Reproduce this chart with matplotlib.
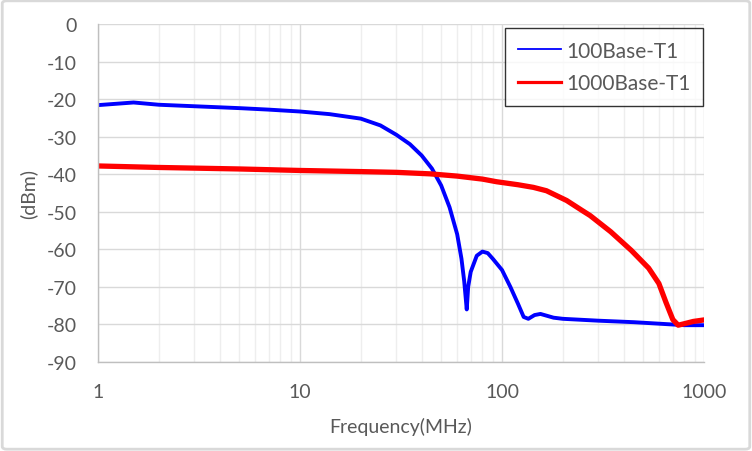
import matplotlib.pyplot as plt
from matplotlib.lines import Line2D
from matplotlib.patches import FancyBboxPatch
from matplotlib.ticker import FixedLocator, LogLocator, NullFormatter

# ---- data (frequency in MHz, level in dBm) ----
freq_100 = [1, 1.5, 2, 3, 5, 7, 10, 14, 20, 25, 30, 35, 40, 45, 50, 55, 60,
            63, 65, 66.9, 68, 70, 75, 80, 85, 90, 100, 110, 120, 128, 135,
            145, 155, 180, 200, 300, 450, 600, 800, 1000]
level_100 = [-21.6, -20.9, -21.5, -21.9, -22.4, -22.8, -23.3, -24.0, -25.2,
             -27.0, -29.5, -32.0, -35.0, -38.5, -43.0, -48.8, -56.0, -62.5,
             -68.5, -76.0, -70.0, -66.0, -61.7, -60.6, -61.0, -62.5, -65.5,
             -70.0, -74.5, -78.0, -78.5, -77.5, -77.2, -78.2, -78.5, -79.0,
             -79.4, -79.8, -80.2, -80.2]

freq_1000 = [1, 2, 5, 10, 20, 30, 44, 60, 80, 94, 120, 143, 166, 209, 250,
             273, 345, 437, 532, 598, 648, 701, 745, 800, 885, 1000]
level_1000 = [-37.8, -38.2, -38.6, -39.0, -39.3, -39.5, -39.9, -40.5, -41.3,
              -42.0, -42.8, -43.5, -44.4, -47.0, -49.7, -51.0, -55.3, -60.3,
              -65.0, -69.1, -74.1, -78.7, -80.2, -79.8, -79.2, -78.8]

series_names = ['100Base-T1', '1000Base-T1']
y_ticks = [0, -10, -20, -30, -40, -50, -60, -70, -80, -90]
x_ticks = [1, 10, 100, 1000]

# ---- style ----
plt.rcParams['font.family'] = ['Lato', 'DejaVu Sans']
plt.rcParams['axes.unicode_minus'] = False
text_color = '#595959'
blue = '#0000ff'
red = '#ff0000'

fig = plt.figure(figsize=(7.52, 4.52), dpi=100)
ax = fig.add_axes([98 / 752, 89 / 452, 606 / 752, 338 / 452])

ax.plot(freq_100, level_100, color=blue, lw=2.8, solid_joinstyle='round')
ax.plot(freq_1000, level_1000, color=red, lw=3.8, solid_joinstyle='round')

ax.set_xscale('log')
ax.set_xlim(1, 1000)
ax.set_ylim(-90, 0)
ax.xaxis.set_major_locator(FixedLocator(x_ticks))
ax.set_xticklabels([str(t) for t in x_ticks])
ax.xaxis.set_minor_locator(LogLocator(base=10, subs=range(2, 10)))
ax.xaxis.set_minor_formatter(NullFormatter())
ax.set_yticks(y_ticks)

ax.grid(True, which='major', color='#d9d9d9', lw=1.0)
ax.grid(True, which='minor', axis='x', color='#eeeeee', lw=1.0)
ax.set_axisbelow(True)
for side in ['top', 'right']:
    ax.spines[side].set_visible(False)
for side in ['left', 'bottom']:
    ax.spines[side].set_color('#bfbfbf')
    ax.spines[side].set_linewidth(1.0)

ax.tick_params(which='both', length=0, colors=text_color, labelsize=14)
ax.tick_params(axis='y', pad=15)
ax.tick_params(axis='x', pad=15)

ax.set_xlabel('Frequency(MHz)', fontsize=14, color=text_color)
ax.set_ylabel('(dBm)', fontsize=14, color=text_color)
ax.xaxis.set_label_coords(0.5, -0.163)
ax.yaxis.set_label_coords(-0.1, 0.5)

handles = [Line2D([], [], color=blue, lw=1.3),
           Line2D([], [], color=red, lw=2.3)]
leg = fig.legend(handles, series_names, loc='upper left',
                 bbox_to_anchor=(505 / 752, 1 - 29 / 452), fontsize=15,
                 frameon=True, fancybox=False, edgecolor='black',
                 handlelength=2.1, handletextpad=0.25, labelspacing=0.62,
                 borderpad=0.6, borderaxespad=0)
leg.get_frame().set_linewidth(1.0)
for t in leg.get_texts():
    t.set_color(text_color)

# outer chart border, Excel style
fig.patches.append(FancyBboxPatch((0.003, 0.004), 0.994, 0.992,
                                  boxstyle='round,pad=0,rounding_size=0.006',
                                  transform=fig.transFigure, fill=False,
                                  edgecolor='#d9d9d9', lw=2))

fig.savefig('out.png', dpi=100)
